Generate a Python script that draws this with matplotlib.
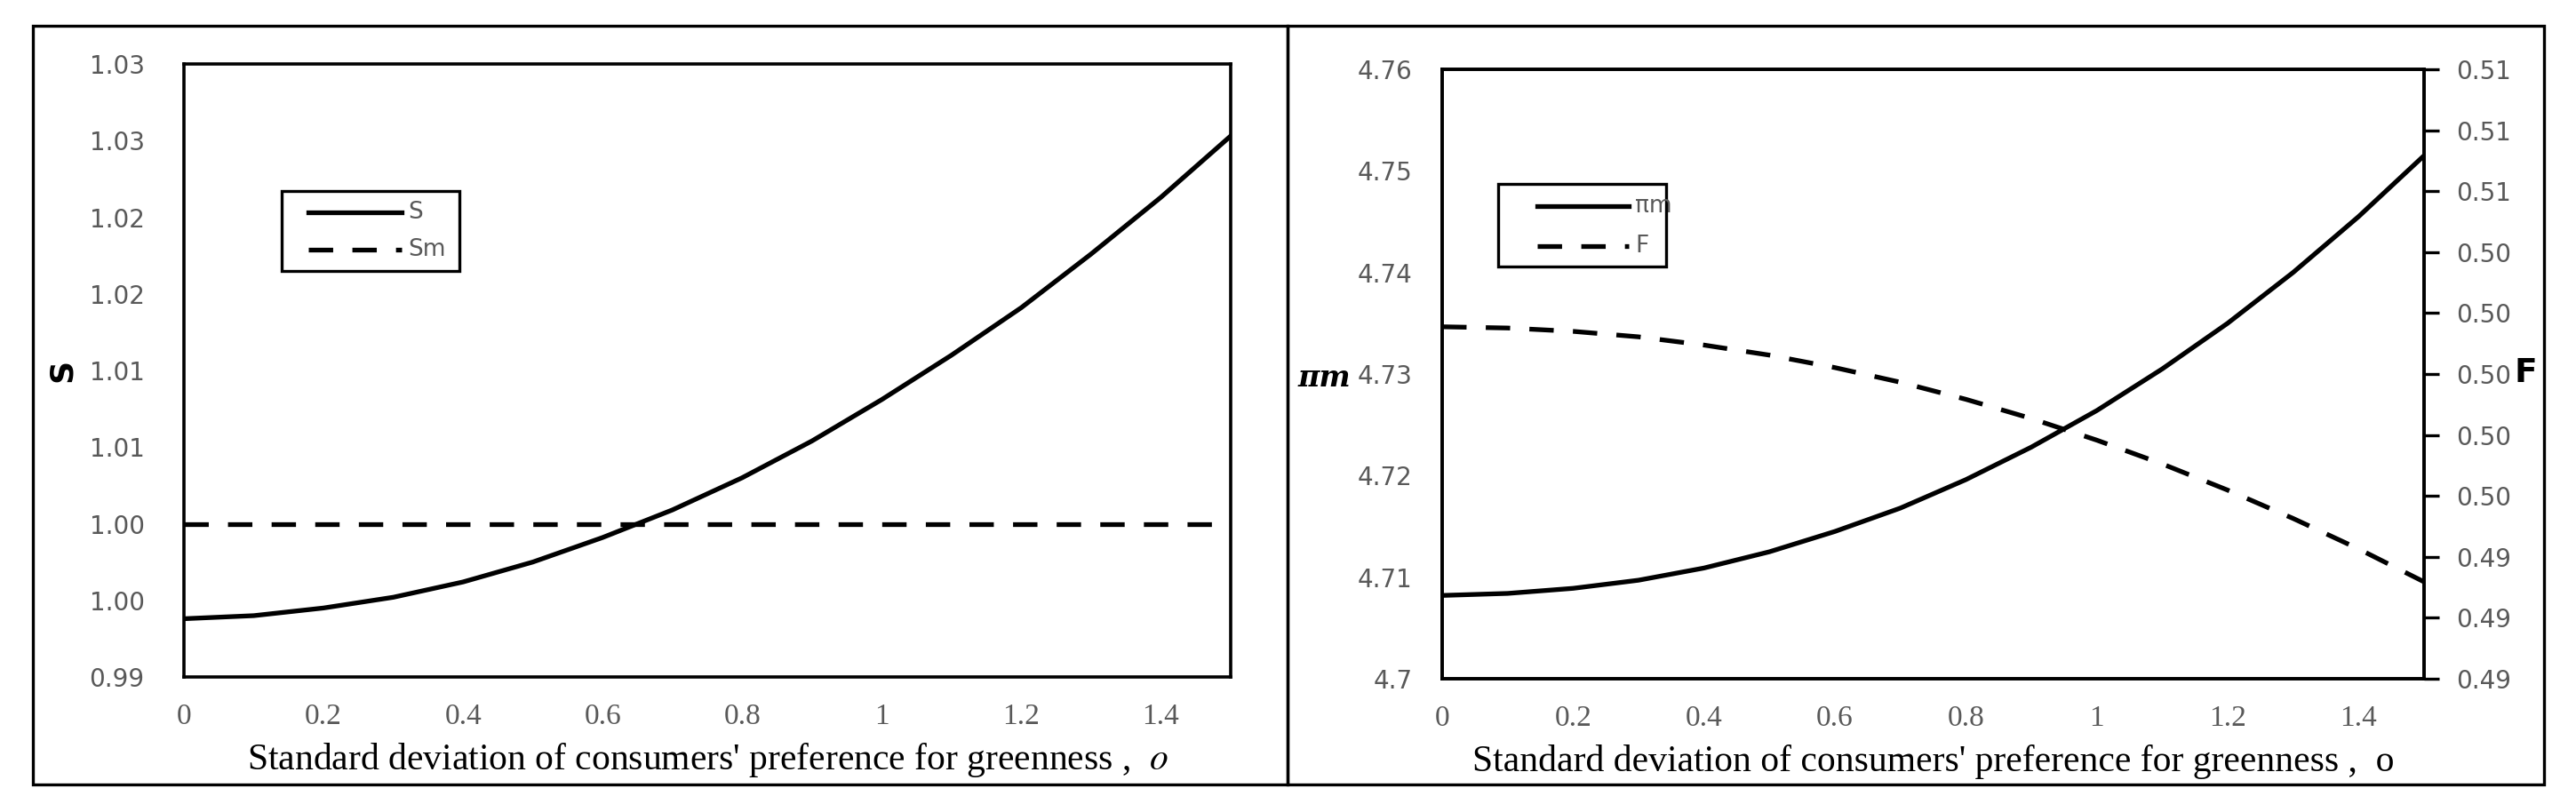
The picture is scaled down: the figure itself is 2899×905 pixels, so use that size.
import matplotlib
matplotlib.use("Agg")
import matplotlib.pyplot as plt
from matplotlib.patches import Rectangle
from matplotlib.lines import Line2D

plt.rcParams["mathtext.fontset"] = "stix"

# x axis: standard deviation of consumers' preference for greenness
sigma = [0.0, 0.1, 0.2, 0.3, 0.4, 0.5, 0.6, 0.7, 0.8, 0.9, 1.0, 1.1, 1.2, 1.3, 1.4, 1.5]

# left panel
S = [0.9938, 0.9940, 0.9945, 0.9952, 0.9962, 0.9975, 0.9991, 1.0009,
     1.0030, 1.0054, 1.0081, 1.0110, 1.0141, 1.0176, 1.0213, 1.0253]
Sm = [1.0] * 16

# right panel
pi_m = [4.7082, 4.7084, 4.7089, 4.7097, 4.7109, 4.7125, 4.7145, 4.7168,
        4.7196, 4.7228, 4.7264, 4.7305, 4.7350, 4.7400, 4.7455, 4.7515]
F = [0.50155, 0.50151, 0.50140, 0.50122, 0.50095, 0.50062, 0.50021, 0.49973,
     0.49917, 0.49854, 0.49783, 0.49705, 0.49619, 0.49526, 0.49426, 0.49318]

x_ticks = [0, 0.2, 0.4, 0.6, 0.8, 1.0, 1.2, 1.4]
x_labels = ["0", "0.2", "0.4", "0.6", "0.8", "1", "1.2", "1.4"]
s_ticks = [0.990, 0.995, 1.000, 1.005, 1.010, 1.015, 1.020, 1.025, 1.030]
s_labels = ["0.99", "1.00", "1.00", "1.01", "1.01", "1.02", "1.02", "1.03", "1.03"]
pi_ticks = [4.70, 4.71, 4.72, 4.73, 4.74, 4.75, 4.76]
pi_labels = ["4.7", "4.71", "4.72", "4.73", "4.74", "4.75", "4.76"]
f_ticks = [0.490, 0.492, 0.494, 0.496, 0.498, 0.500, 0.502, 0.504, 0.506, 0.508, 0.510]
f_labels = ["0.49", "0.49", "0.49", "0.50", "0.50", "0.50", "0.50", "0.50", "0.51", "0.51", "0.51"]

W, H = 2899, 905
fig = plt.figure(figsize=(W / 100, H / 100), dpi=100)
fig.patch.set_facecolor("white")

gray = "#595959"
lw = 3.8
dash = (0, (5.2, 4.1))
xlab = "Standard deviation of consumers' preference for greenness ,  "


def fx(x):
    return x / W


def fy(y):
    return 1 - y / H


# outer frames of the two panels
for x0, x1 in [(37, 1449), (1449, 2863)]:
    fig.add_artist(Rectangle((fx(x0), fy(883)), (x1 - x0) / W, (883 - 29) / H,
                             transform=fig.transFigure, fill=False, lw=2.4, ec="black"))


# legend box drawn the way the original chart has it (pixel placement)
def draw_legend(box, x_line, rows):
    x0, y0, x1, y1 = box
    fig.add_artist(Rectangle((fx(x0), fy(y1)), (x1 - x0) / W, (y1 - y0) / H,
                             transform=fig.transFigure, fill=False, lw=2.4, ec="black"))
    for y, text, ls in rows:
        fig.add_artist(Line2D([fx(x_line[0]), fx(x_line[1])], [fy(y), fy(y)],
                              transform=fig.transFigure, color="black", lw=lw, ls=ls))
        fig.text(fx(x_line[1] + 7), fy(y), text, fontsize=19, color=gray,
                 ha="left", va="center")


def style(ax, ytick_pad):
    for sp in ax.spines.values():
        sp.set_linewidth(2.6)
        sp.set_color("black")
    ax.set_xlim(0, 1.5)
    ax.set_xticks(x_ticks)
    ax.set_xticklabels(x_labels, family="Liberation Serif", fontsize=24, color=gray)
    ax.tick_params(axis="x", length=0, pad=21)
    ax.tick_params(axis="y", length=0, pad=ytick_pad, labelsize=20, labelcolor=gray)


# left panel
ax1 = fig.add_axes([fx(207), fy(762), (1385 - 207) / W, (762 - 72) / H])
ax1.plot(sigma, S, color="black", lw=lw)
ax1.plot(sigma, Sm, color="black", lw=lw, ls=dash)
ax1.set_ylim(0.99, 1.03)
ax1.set_yticks(s_ticks)
ax1.set_yticklabels(s_labels)
style(ax1, 32)
ax1.set_xlabel(xlab + r"$o$", family="Liberation Serif", fontsize=30)
ax1.xaxis.set_label_coords(0.5, -0.136)
ax1.xaxis.label.set_va("center")
ax1.set_ylabel("S", fontsize=26, fontweight="bold")
ax1.yaxis.set_label_coords(-0.116, 0.5)
ax1.yaxis.label.set_va("center")
draw_legend((317, 215, 517, 305), (347, 452),
            [(239, "S", "-"), (281, "Sm", dash)])

# right panel
ax2 = fig.add_axes([fx(1623), fy(764), (2728 - 1623) / W, (764 - 78) / H])
ax2.plot(sigma, pi_m, color="black", lw=lw)
ax2.set_ylim(4.70, 4.76)
ax2.set_yticks(pi_ticks)
ax2.set_yticklabels(pi_labels)
style(ax2, 24)
ax2.set_xlabel(xlab + "o", family="Liberation Serif", fontsize=30)
ax2.xaxis.set_label_coords(0.5, -0.136)
ax2.xaxis.label.set_va("center")
ax2.set_ylabel("πm", family="DejaVu Serif", fontsize=24, fontweight="bold",
               fontstyle="italic", rotation=0)
ax2.yaxis.set_label_coords(-0.12, 0.493)
ax2.yaxis.label.set_va("center")
ax2.yaxis.label.set_ha("center")

ax3 = ax2.twinx()
ax3.plot(sigma, F, color="black", lw=lw, ls=dash)
ax3.set_ylim(0.49, 0.51)
ax3.set_yticks(f_ticks)
ax3.set_yticklabels(f_labels)
for sp in ax3.spines.values():
    sp.set_linewidth(2.6)
ax3.tick_params(axis="y", length=12, width=2.4, direction="out", pad=14,
                labelsize=20, labelcolor=gray)
ax3.set_ylabel("F", fontsize=27, fontweight="bold", rotation=0)
ax3.yaxis.set_label_coords(1.1035, 0.501)
ax3.yaxis.label.set_va("center")
ax3.yaxis.label.set_ha("center")
draw_legend((1686, 207, 1875, 300), (1730, 1833),
            [(232, "πm", "-"), (277, "F", dash)])

fig.savefig("out.png", dpi=100, facecolor="white")
